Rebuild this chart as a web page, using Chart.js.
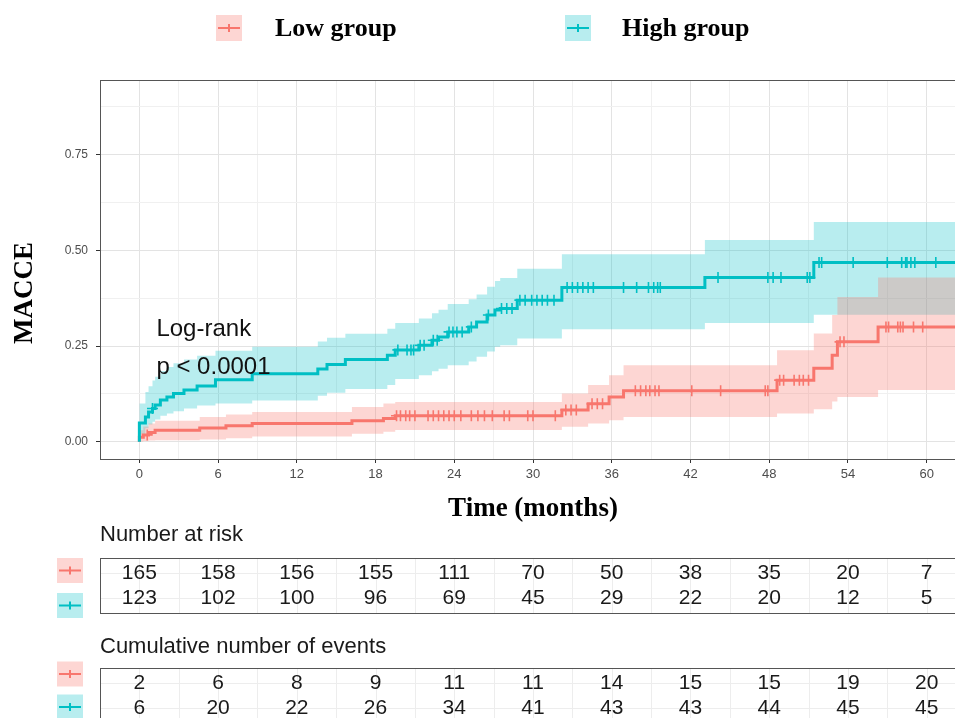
<!DOCTYPE html>
<html>
<head>
<meta charset="utf-8">
<title>MACCE cumulative incidence</title>
<script src="https://cdn.jsdelivr.net/npm/chart.js@4.4.1/dist/chart.umd.min.js"></script>
<style>
  html, body { margin: 0; padding: 0; background: #fff; overflow: hidden; }
  #wrap { width: 955px; height: 718px; overflow: hidden; }
  canvas { display: block; }
</style>
</head>
<body>
<div id="wrap"><canvas id="kmChart" width="975" height="718"></canvas></div>
<script>
const FONT_SANS = '"Liberation Sans", Arial, sans-serif';
const FONT_SERIF = '"Liberation Serif", "Times New Roman", serif';

const groups = ['Low group', 'High group'];
const groupColors = ['#F8766D', '#00BFC4'];
const bandColors = ['rgba(248,118,109,0.3)', 'rgba(0,191,196,0.28)'];

const xMajorTicks = [0, 6, 12, 18, 24, 30, 36, 42, 48, 54, 60];
const yMajorTicks = [0, 0.25, 0.5, 0.75];
const yTickLabels = ['0.00', '0.25', '0.50', '0.75'];

// Low group: step curve and 95% band
const lowTime  = [0, 0, 0.3, 0.7, 1.2, 4.6, 6.6, 8.6, 16.2, 18.6, 19.5, 32.2, 34.2, 35.8, 36.9, 48.6, 51.4, 52.8, 53.2, 56.3, 63];
const lowEst   = [0, 0.012, 0.018, 0.024, 0.030, 0.036, 0.042, 0.048, 0.055, 0.061, 0.068, 0.083, 0.099, 0.117, 0.133, 0.161, 0.192, 0.226, 0.261, 0.300, 0.300];
const lowUpper = [0, 0.030, 0.040, 0.048, 0.055, 0.065, 0.071, 0.078, 0.091, 0.100, 0.104, 0.126, 0.148, 0.174, 0.200, 0.239, 0.283, 0.331, 0.378, 0.429, 0.429];
const lowLower = [0, 0.001, 0.002, 0.003, 0.004, 0.006, 0.009, 0.014, 0.021, 0.026, 0.031, 0.039, 0.048, 0.056, 0.065, 0.074, 0.085, 0.105, 0.117, 0.135, 0.135];
const lowCensor = [0.6, 19.6, 19.9, 20.3, 20.6, 21.0, 22.0, 22.4, 22.8, 23.2, 23.6, 24.0, 24.5, 25.3, 25.8, 26.3, 26.9,
  27.8, 28.2, 29.6, 30.0, 31.7, 32.5, 32.9, 33.3, 34.5, 34.9, 35.3, 37.8, 38.2, 38.6, 38.9, 39.3, 39.6, 42.1, 44.3,
  47.7, 47.9, 48.8, 49.1, 49.9, 50.3, 50.6, 51.0, 53.4, 53.7, 56.9, 57.1, 57.8, 58.0, 58.2, 59.0, 59.7];

// High group: step curve and 95% band
const highTime  = [0, 0, 0.46, 0.7, 1.0, 1.2, 1.6, 2.1, 2.6, 3.4, 4.4, 5.8, 8.6, 13.6, 14.3, 15.7, 18.9, 19.5, 21.3, 22.3, 22.8, 23.5, 25.1, 25.7, 26.5, 27.1, 27.5, 28.8, 32.2, 43.1, 51.4, 63];
const highEst   = [0, 0.049, 0.065, 0.078, 0.087, 0.096, 0.109, 0.117, 0.126, 0.135, 0.146, 0.162, 0.178, 0.190, 0.202, 0.215, 0.226, 0.240, 0.252, 0.265, 0.274, 0.287, 0.300, 0.313, 0.331, 0.344, 0.348, 0.370, 0.403, 0.429, 0.468, 0.468];
const highUpper = [0, 0.100, 0.130, 0.145, 0.160, 0.170, 0.185, 0.195, 0.205, 0.215, 0.225, 0.238, 0.248, 0.262, 0.272, 0.282, 0.295, 0.310, 0.322, 0.336, 0.345, 0.360, 0.372, 0.385, 0.405, 0.420, 0.428, 0.452, 0.490, 0.527, 0.574, 0.574];
const highLower = [0, 0.020, 0.035, 0.045, 0.052, 0.058, 0.068, 0.074, 0.080, 0.087, 0.095, 0.100, 0.108, 0.120, 0.128, 0.138, 0.148, 0.164, 0.174, 0.184, 0.191, 0.200, 0.210, 0.222, 0.236, 0.248, 0.252, 0.270, 0.294, 0.310, 0.332, 0.332];
const highCensor = [1.0, 19.7, 20.4, 20.7, 20.9, 21.4, 21.7, 22.4, 22.7, 23.6, 23.9, 24.2, 24.6, 25.3, 26.6, 27.6, 28.0, 28.4,
  29.0, 29.4, 29.9, 30.3, 30.7, 31.1, 31.6, 32.6, 33.0, 33.4, 33.8, 34.2, 34.6, 36.9, 37.9, 38.8, 39.2, 39.5, 39.7,
  44.1, 47.9, 48.3, 48.9, 50.9, 51.1, 51.8, 52.0, 54.4, 57.0, 58.1, 58.4, 58.5, 58.8, 59.1, 60.7];

// Tables under the plot, one value per major x tick
const riskLow    = [165, 158, 156, 155, 111, 70, 50, 38, 35, 20, 7];
const riskHigh   = [123, 102, 100, 96, 69, 45, 29, 22, 20, 12, 5];
const eventsLow  = [2, 6, 8, 9, 11, 11, 14, 15, 15, 19, 20];
const eventsHigh = [6, 20, 22, 26, 34, 41, 43, 43, 44, 45, 45];

const toPoints = (times, vals) => times.map((t, i) => ({ x: t, y: vals[i] }));

// value of a step curve at time t (right-continuous)
function valueAt(times, vals, t) {
  let v = vals[0];
  for (let i = 0; i < times.length; i++) {
    if (times[i] <= t) v = vals[i];
  }
  return v;
}
const censorPoints = (cens, times, vals) => cens.map(t => ({ x: t, y: valueAt(times, vals, t) }));

const xGridTicks = xMajorTicks.flatMap(t => [t, t + 3]);
const yGridTicks = yMajorTicks.flatMap(v => [v, v + 0.125]);

function bandDatasets(times, upper, lower, g, order) {
  const common = {
    stepped: 'before',
    borderWidth: 0,
    borderColor: 'transparent',
    pointRadius: 0,
    pointHitRadius: 0,
    order: order
  };
  return [
    Object.assign({ label: groups[g] + ' upper', data: toPoints(times, upper), fill: '+1', backgroundColor: bandColors[g] }, common),
    Object.assign({ label: groups[g] + ' lower', data: toPoints(times, lower), fill: false }, common)
  ];
}

function lineDataset(times, vals, g) {
  return {
    label: groups[g],
    data: toPoints(times, vals),
    stepped: 'before',
    borderColor: groupColors[g],
    borderWidth: 3,
    pointRadius: 0,
    fill: false,
    order: 2
  };
}

function censorDataset(cens, times, vals, g) {
  return {
    label: groups[g] + ' censored',
    data: censorPoints(cens, times, vals),
    showLine: false,
    pointStyle: 'cross',
    pointRadius: 5.5,
    pointBorderWidth: 1.6,
    borderColor: groupColors[g],
    backgroundColor: groupColors[g],
    order: 1
  };
}

function drawChip(ctx, left, top, w, h, g) {
  ctx.fillStyle = bandColors[g];
  ctx.fillRect(left, top, w, h);
  const cx = left + w / 2;
  const cy = top + h / 2;
  ctx.strokeStyle = groupColors[g];
  ctx.lineWidth = 2;
  ctx.beginPath();
  ctx.moveTo(left + 2, cy);
  ctx.lineTo(left + w - 2, cy);
  ctx.moveTo(cx, cy - 4);
  ctx.lineTo(cx, cy + 4);
  ctx.stroke();
}

function drawTable(ctx, xScale, area, title, titleY, boxTop, rowYs, rows, chipYs) {
  const boxBottom = boxTop + 55;
  ctx.fillStyle = '#1a1a1a';
  ctx.font = '22px ' + FONT_SANS;
  ctx.textAlign = 'left';
  ctx.textBaseline = 'middle';
  ctx.fillText(title, area.left, titleY);

  ctx.strokeStyle = '#ededed';
  ctx.lineWidth = 1;
  ctx.beginPath();
  xGridTicks.forEach(t => {
    const px = Math.round(xScale.getPixelForValue(t)) + 0.5;
    ctx.moveTo(px, boxTop);
    ctx.lineTo(px, boxBottom);
  });
  rowYs.forEach(y => {
    ctx.moveTo(area.left, Math.round(y) + 0.5);
    ctx.lineTo(area.right, Math.round(y) + 0.5);
  });
  ctx.stroke();

  ctx.strokeStyle = '#555';
  ctx.strokeRect(Math.round(area.left) + 0.5, boxTop + 0.5, Math.round(area.right - area.left), boxBottom - boxTop);

  ctx.fillStyle = '#1a1a1a';
  ctx.font = '21px ' + FONT_SANS;
  ctx.textAlign = 'center';
  rows.forEach((vals, r) => {
    vals.forEach((v, i) => {
      ctx.fillText(String(v), xScale.getPixelForValue(xMajorTicks[i]), rowYs[r]);
    });
  });

  chipYs.forEach((cy, g) => drawChip(ctx, 57, cy - 12.5, 26, 25, g));
}

const decorations = {
  id: 'decorations',
  afterDatasetsDraw(chart) {
    const { ctx, chartArea: a, scales: { x } } = chart;
    ctx.save();
    ctx.strokeStyle = '#555';
    ctx.lineWidth = 1;
    ctx.strokeRect(Math.round(a.left) + 0.5, Math.round(a.top) + 0.5, Math.round(a.right - a.left), Math.round(a.bottom - a.top));

    ctx.fillStyle = '#111';
    ctx.font = '24px ' + FONT_SANS;
    ctx.textAlign = 'left';
    ctx.textBaseline = 'alphabetic';
    const lx = x.getPixelForValue(1.3);
    ctx.fillText('Log-rank', lx, 336);
    ctx.fillText('p < 0.0001', lx, 374);
    ctx.restore();
  },
  afterDraw(chart) {
    const { ctx, chartArea: a, scales: { x } } = chart;
    ctx.save();

    // legend across the top
    const legendPos = [{ chip: 216, text: 275 }, { chip: 565, text: 622 }];
    ctx.font = 'bold 26px ' + FONT_SERIF;
    ctx.textAlign = 'left';
    ctx.textBaseline = 'alphabetic';
    groups.forEach((name, g) => {
      drawChip(ctx, legendPos[g].chip, 15, 26, 26, g);
      ctx.fillStyle = '#000';
      ctx.fillText(name, legendPos[g].text, 36);
    });

    // y axis title
    ctx.save();
    ctx.translate(25, 293);
    ctx.rotate(-Math.PI / 2);
    ctx.font = 'bold 27px ' + FONT_SERIF;
    ctx.fillStyle = '#000';
    ctx.textAlign = 'center';
    ctx.textBaseline = 'middle';
    ctx.fillText('MACCE', 0, 0);
    ctx.restore();

    drawTable(ctx, x, a, 'Number at risk', 535, 558, [573, 598], [riskLow, riskHigh], [570.5, 605.5]);
    drawTable(ctx, x, a, 'Cumulative number of events', 647, 668, [683, 708], [eventsLow, eventsHigh], [674, 707]);
    ctx.restore();
  }
};

const isMajorX = v => xMajorTicks.includes(v);
const isMajorY = v => yMajorTicks.some(m => Math.abs(m - v) < 1e-9);

new Chart(document.getElementById('kmChart'), {
  type: 'line',
  data: {
    datasets: [
      ...bandDatasets(highTime, highUpper, highLower, 1, 4),
      ...bandDatasets(lowTime, lowUpper, lowLower, 0, 3),
      lineDataset(highTime, highEst, 1),
      lineDataset(lowTime, lowEst, 0),
      censorDataset(highCensor, highTime, highEst, 1),
      censorDataset(lowCensor, lowTime, lowEst, 0)
    ]
  },
  options: {
    responsive: false,
    animation: false,
    devicePixelRatio: 1,
    layout: { padding: { top: 80, right: 9, bottom: 193, left: 0 } },
    plugins: {
      legend: { display: false },
      tooltip: { enabled: false }
    },
    scales: {
      x: {
        type: 'linear',
        min: -3,
        max: 63,
        afterFit: scale => { scale.height = 66; },
        afterBuildTicks: scale => { scale.ticks = xGridTicks.map(v => ({ value: v })); },
        ticks: {
          autoSkip: false,
          maxRotation: 0,
          padding: 4,
          color: '#4d4d4d',
          font: { size: 13, family: FONT_SANS },
          callback: v => isMajorX(v) ? String(v) : ''
        },
        grid: {
          color: ctx => isMajorX(ctx.tick.value) ? '#e3e3e3' : '#f0f0f0',
          lineWidth: 1,
          tickLength: 4,
          tickColor: ctx => isMajorX(ctx.tick.value) ? '#333' : 'transparent'
        },
        border: { display: false },
        title: {
          display: true,
          text: 'Time (months)',
          color: '#000',
          padding: 0,
          font: { size: 27, weight: 'bold', family: FONT_SERIF }
        }
      },
      y: {
        min: -0.045,
        max: 0.945,
        afterFit: scale => { scale.width = 100; },
        afterBuildTicks: scale => { scale.ticks = yGridTicks.map(v => ({ value: v })); },
        ticks: {
          autoSkip: false,
          padding: 8,
          color: '#4d4d4d',
          font: { size: 12, family: FONT_SANS },
          callback: v => {
            const i = yMajorTicks.findIndex(m => Math.abs(m - v) < 1e-9);
            return i >= 0 ? yTickLabels[i] : '';
          }
        },
        grid: {
          color: ctx => isMajorY(ctx.tick.value) ? '#e3e3e3' : '#f0f0f0',
          lineWidth: 1,
          tickLength: 4,
          tickColor: ctx => isMajorY(ctx.tick.value) ? '#333' : 'transparent'
        },
        border: { display: false }
      }
    }
  },
  plugins: [decorations]
});
</script>
</body>
</html>
